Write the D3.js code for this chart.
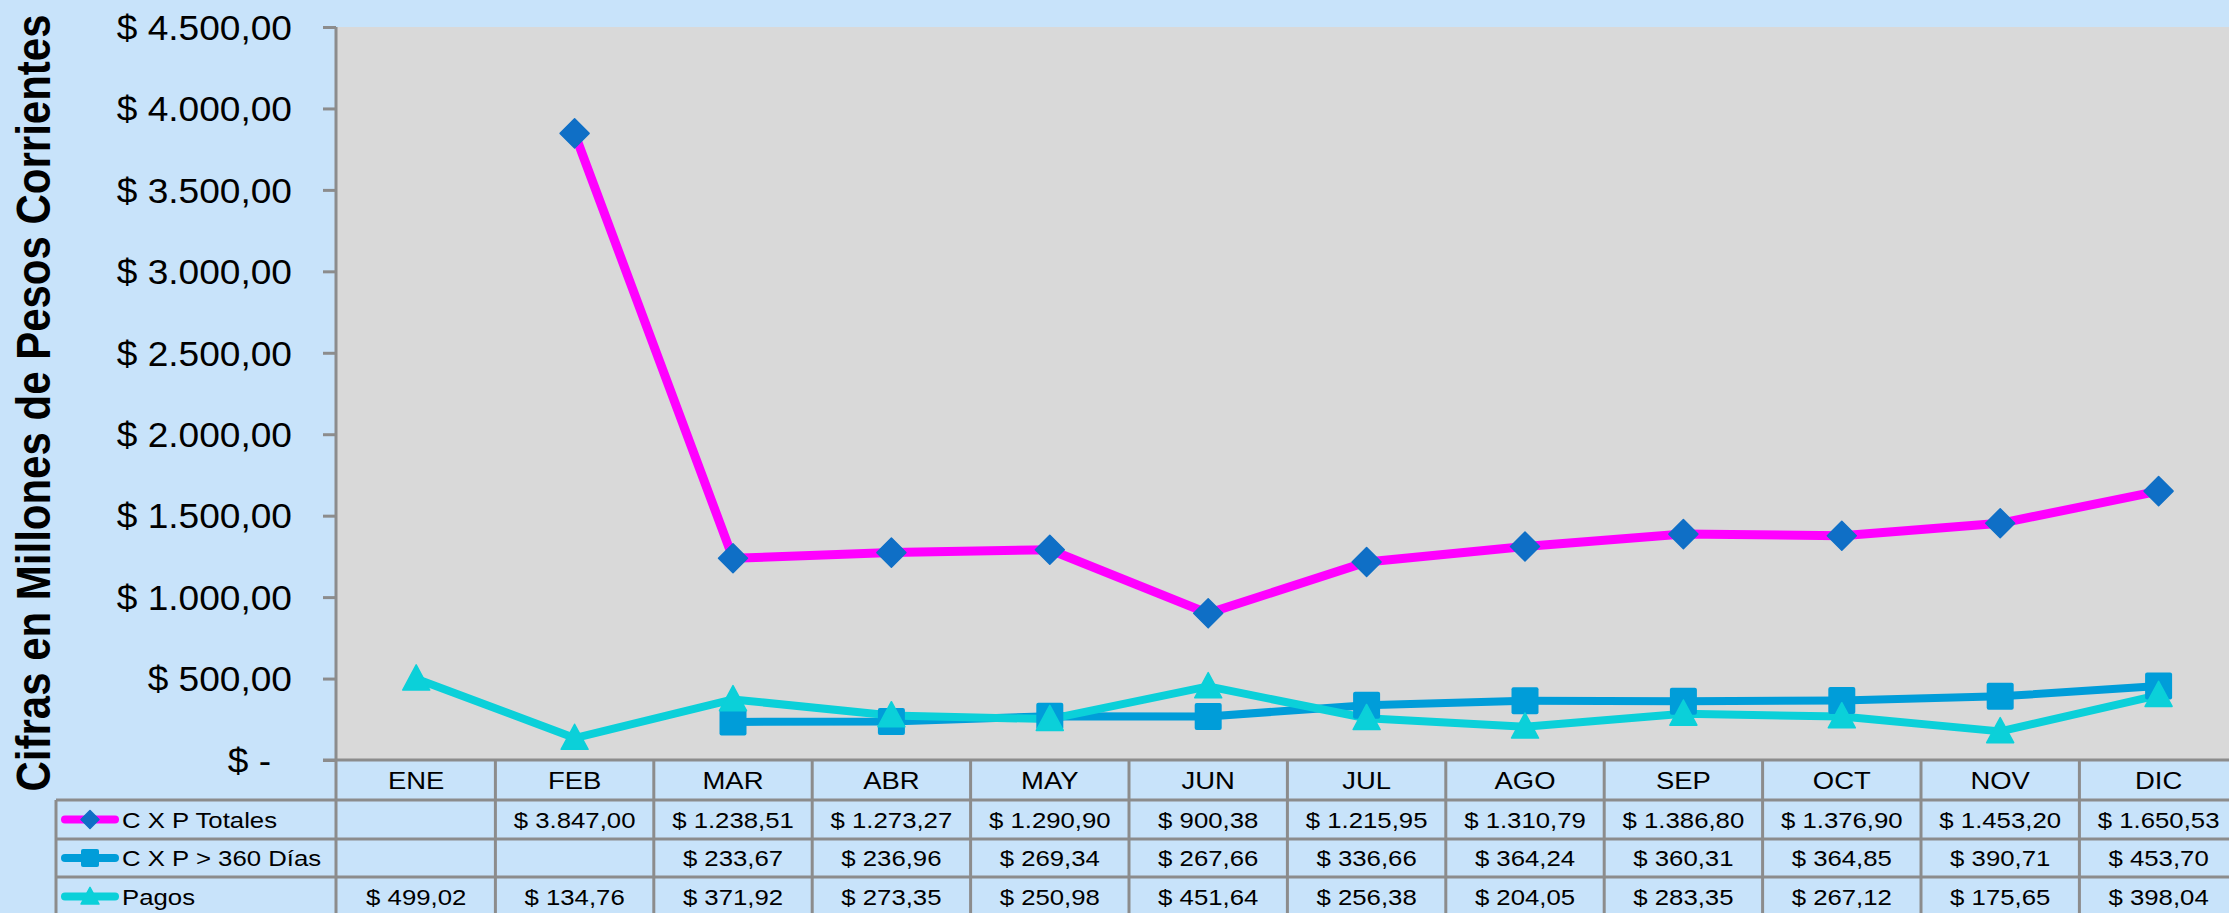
<!DOCTYPE html>
<html>
<head>
<meta charset="utf-8">
<script src="https://cdn.jsdelivr.net/npm/d3@7"></script>
<style>
  body { margin: 0; background: #C8E3FA; overflow: hidden; }
  text { font-family: "Liberation Sans", Arial, sans-serif; fill: #000; }
</style>
</head>
<body>
<svg id="chart" width="2229" height="913"></svg>
<script>
// Data
var months = ["ENE", "FEB", "MAR", "ABR", "MAY", "JUN", "JUL", "AGO", "SEP", "OCT", "NOV", "DIC"];
var cxpTotales = [null, 3847.00, 1238.51, 1273.27, 1290.90, 900.38, 1215.95, 1310.79, 1386.80, 1376.90, 1453.20, 1650.53];
var cxp360 = [null, null, 233.67, 236.96, 269.34, 267.66, 336.66, 364.24, 360.31, 364.85, 390.71, 453.70];
var pagos = [499.02, 134.76, 371.92, 273.35, 250.98, 451.64, 256.38, 204.05, 283.35, 267.12, 175.65, 398.04];
var seriesNames = ["C X P Totales", "C X P > 360 Días", "Pagos"];
var yTickValues = [0, 500, 1000, 1500, 2000, 2500, 3000, 3500, 4000, 4500];
var yTitle = "Cifras en Millones de Pesos Corrientes";

var series = [
  {name: seriesNames[0], values: cxpTotales, line: "#FF00FF", marker: "#0F6FC6", shape: "diamond", width: 9},
  {name: seriesNames[1], values: cxp360, line: "#009DD9", marker: "#009DD9", shape: "square", width: 8},
  {name: seriesNames[2], values: pagos, line: "#0BD0D9", marker: "#0BD0D9", shape: "triangle", width: 8}
];

// Layout
var plotLeft = 337, plotTop = 27, plotBottom = 760;
var colW = 158.4;
var plotRight = plotLeft + months.length * colW;
var tableLeft = 56;
var rowEdges = [760, 800, 839, 877, 916];
var gridColor = "#8C8C8C";

var locale = d3.formatLocale({decimal: ",", thousands: ".", grouping: [3], currency: ["$ ", ""]});
var money = locale.format("$,.2f");

var svg = d3.select("#chart");

var x = d3.scaleBand().domain(months).range([plotLeft, plotRight]).padding(0);
var y = d3.scaleLinear().domain([0, 4500]).range([plotBottom, plotTop]);

// Plot area
svg.append("rect")
  .attr("x", plotLeft).attr("y", plotTop)
  .attr("width", plotRight - plotLeft).attr("height", plotBottom - plotTop)
  .attr("fill", "#D9D9D9");

// Y axis
var yAxis = d3.axisLeft(y)
  .tickValues(yTickValues)
  .tickSize(13)
  .tickPadding(0)
  .tickFormat(function(d) { return d === 0 ? "$ -" : money(d); });

var yG = svg.append("g")
  .attr("transform", "translate(" + (plotLeft - 1) + ",0)")
  .call(yAxis);
yG.select(".domain").remove();
yG.selectAll(".tick line").attr("stroke", gridColor).attr("stroke-width", 3);
yG.selectAll(".tick text")
  .attr("font-size", 35)
  .attr("font-family", "'Liberation Sans', Arial, sans-serif")
  .attr("fill", "#000")
  .attr("x", 0)
  .attr("dy", "0.35em")
  .attr("transform", function(d) { return "translate(" + (d === 0 ? -65 : -44) + ",0) scale(1.06,1)"; });

// Y title
svg.append("text")
  .attr("transform", "translate(50,403) scale(1.15,1) rotate(-90)")
  .attr("text-anchor", "middle")
  .attr("font-size", 42)
  .attr("font-weight", "bold")
  .text(yTitle);

// Table grid
var grid = svg.append("g").attr("stroke", gridColor).attr("stroke-width", 3);
// vertical lines
grid.append("line").attr("x1", plotLeft - 1).attr("x2", plotLeft - 1).attr("y1", plotTop).attr("y2", 913);
grid.append("line").attr("x1", tableLeft).attr("x2", tableLeft).attr("y1", rowEdges[1]).attr("y2", 913);
grid.selectAll(".vcol").data(months.slice(1)).enter().append("line")
  .attr("x1", function(d) { return x(d); }).attr("x2", function(d) { return x(d); })
  .attr("y1", rowEdges[0]).attr("y2", 913);
// horizontal lines
grid.append("line").attr("x1", plotLeft - 14).attr("x2", plotRight).attr("y1", rowEdges[0]).attr("y2", rowEdges[0]);
grid.selectAll(".hrow").data(rowEdges.slice(1)).enter().append("line")
  .attr("x1", tableLeft).attr("x2", plotRight)
  .attr("y1", function(d) { return d; }).attr("y2", function(d) { return d; });

function cellText(g, tx, ty, str, anchor, size) {
  g.append("text")
    .attr("transform", "translate(" + tx + "," + ty + ") scale(1.12,1)")
    .attr("text-anchor", anchor)
    .attr("dy", "0.35em")
    .attr("font-size", size || 23)
    .text(str);
}

var table = svg.append("g");
// header row
months.forEach(function(m) {
  cellText(table, x(m) + colW / 2, (rowEdges[0] + rowEdges[1]) / 2, m, "middle", 24.5);
});

// Markers
function drawMarker(g, shape, cx, cy, color, s) {
  if (shape === "diamond") {
    var h = s / 2;
    g.append("path")
      .attr("d", "M" + cx + "," + (cy - h) + "L" + (cx + h) + "," + cy + "L" + cx + "," + (cy + h) + "L" + (cx - h) + "," + cy + "Z")
      .attr("fill", color).attr("stroke", color).attr("stroke-width", 1.5).attr("stroke-linejoin", "round");
  } else if (shape === "square") {
    g.append("rect")
      .attr("x", cx - s / 2).attr("y", cy - s / 2)
      .attr("width", s).attr("height", s).attr("rx", 2)
      .attr("fill", color);
  } else {
    var hh = s * 0.93;
    g.append("path")
      .attr("d", "M" + cx + "," + (cy - hh * 0.55) + "L" + (cx + s / 2) + "," + (cy + hh * 0.45) + "L" + (cx - s / 2) + "," + (cy + hh * 0.45) + "Z")
      .attr("fill", color).attr("stroke", color).attr("stroke-width", 1.5).attr("stroke-linejoin", "round");
  }
}

// Series rows in the table with legend keys
series.forEach(function(s, i) {
  var cy = (rowEdges[i + 1] + rowEdges[i + 2]) / 2;
  table.append("line")
    .attr("x1", 65).attr("x2", 115).attr("y1", cy).attr("y2", cy)
    .attr("stroke", s.line).attr("stroke-width", 8).attr("stroke-linecap", "round");
  drawMarker(table, s.shape, 90, cy, s.marker, 18);
  cellText(table, 122, cy, s.name, "start");
  s.values.forEach(function(v, j) {
    if (v != null) cellText(table, x(months[j]) + colW / 2, cy, money(v), "middle");
  });
});

// Lines
var lines = svg.append("g");
series.forEach(function(s) {
  var pts = s.values.map(function(v, j) { return {m: months[j], v: v}; });
  var line = d3.line()
    .defined(function(d) { return d.v != null; })
    .x(function(d) { return x(d.m) + colW / 2; })
    .y(function(d) { return y(d.v); });
  lines.append("path")
    .attr("d", line(pts))
    .attr("fill", "none")
    .attr("stroke", s.line)
    .attr("stroke-width", s.width)
    .attr("stroke-linejoin", "round");
});
series.forEach(function(s) {
  var size = s.shape === "diamond" ? 29 : 27;
  s.values.forEach(function(v, j) {
    if (v != null) drawMarker(lines, s.shape, x(months[j]) + colW / 2, y(v), s.marker, size);
  });
});
</script>
</body>
</html>
